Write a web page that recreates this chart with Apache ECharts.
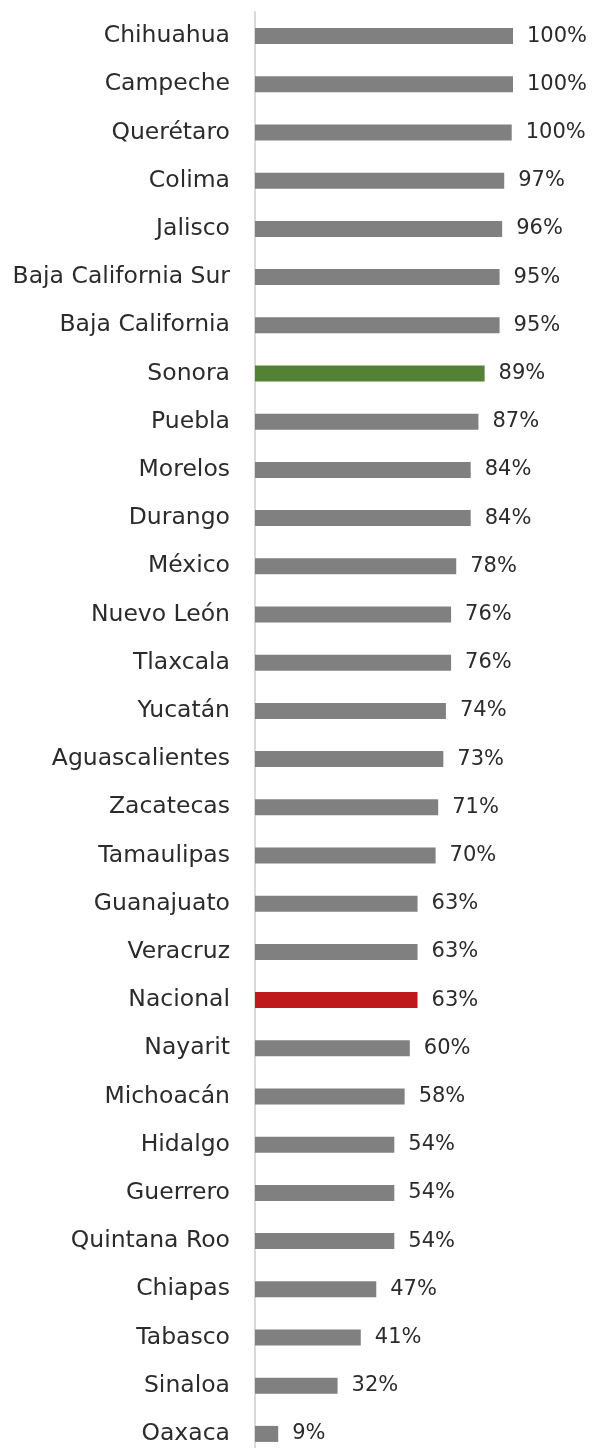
<!DOCTYPE html>
<html>
<head>
<meta charset="utf-8">
<script src="https://cdn.jsdelivr.net/npm/echarts@6/dist/echarts.min.js"></script>
<style>
html,body{margin:0;padding:0;background:#fff;overflow:hidden;}
#chart{width:595px;height:1470px;}
</style>
</head>
<body>
<div id="chart"></div>
<script>
const categories = ["Chihuahua","Campeche","Querétaro","Colima","Jalisco","Baja California Sur","Baja California","Sonora","Puebla","Morelos","Durango","México","Nuevo León","Tlaxcala","Yucatán","Aguascalientes","Zacatecas","Tamaulipas","Guanajuato","Veracruz","Nacional","Nayarit","Michoacán","Hidalgo","Guerrero","Quintana Roo","Chiapas","Tabasco","Sinaloa","Oaxaca"];
const values = [100,100,99.5,96.6,95.8,94.8,94.8,89,86.6,83.6,83.6,78,76,76,74,73,71,70,63,63,63,60,58,54,54,54,47,41,32,9];
const highlight = {"Sonora":"#548235","Nacional":"#c0191b"};
const baseColor = "#808080";

const chart = echarts.init(document.getElementById('chart'), null, {renderer:'canvas'});
const fontFamily = "DejaVu Sans";
chart.setOption({
  backgroundColor:'#ffffff',
  animation:false,
  grid:{left:255, top:12, width:258, height:1446, containLabel:false},
  xAxis:{type:'value', min:0, max:100, show:false},
  yAxis:{
    type:'category', inverse:true, data:categories,
    axisLine:{show:true, lineStyle:{color:'#d9d9d9', width:2}},
    axisTick:{show:false},
    axisLabel:{margin:25, color:'#2b2b2b', fontSize:23.5, fontFamily:fontFamily}
  },
  series:[{
    type:'bar',
    data:values.map((v,i)=>({value:v, itemStyle:{color: highlight[categories[i]] || baseColor}})),
    barWidth:16,
    label:{show:true, position:'right', distance:14, color:'#2b2b2b', fontSize:21, fontFamily:fontFamily,
      formatter:p=>Math.round(p.value)+'%'}
  }]
});
</script>
</body>
</html>
